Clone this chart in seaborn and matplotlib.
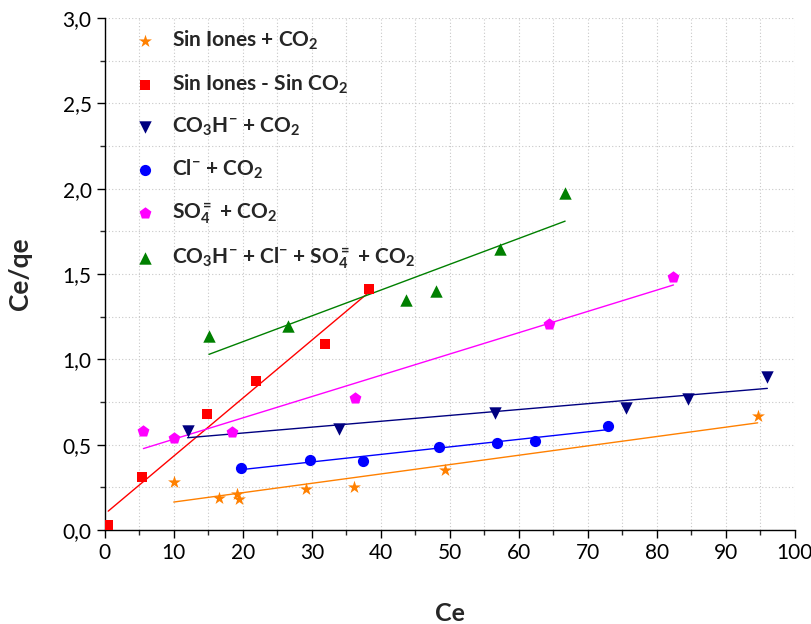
import numpy as np
import pandas as pd
import matplotlib
matplotlib.use("Agg")
import matplotlib.pyplot as plt
import seaborn as sns
from matplotlib.ticker import MultipleLocator, FuncFormatter

# Ce (x) and Ce/qe (y) per series
sin_iones_co2_x = [10.0, 16.5, 19.2, 19.4, 29.1, 36.1, 49.3, 94.6]
sin_iones_co2_y = [0.283, 0.189, 0.209, 0.183, 0.242, 0.250, 0.351, 0.670]

sin_iones_sin_co2_x = [0.5, 5.4, 14.8, 21.9, 31.9, 38.3]
sin_iones_sin_co2_y = [0.029, 0.31, 0.68, 0.873, 1.09, 1.41]

co3h_x = [12.0, 34.0, 56.5, 75.5, 84.5, 96.0]
co3h_y = [0.58, 0.59, 0.683, 0.713, 0.767, 0.898]

cl_x = [19.8, 29.7, 37.4, 48.4, 56.9, 62.4, 72.9]
cl_y = [0.365, 0.408, 0.406, 0.488, 0.510, 0.523, 0.611]

so4_x = [5.6, 10.0, 18.5, 36.2, 64.3, 82.4]
so4_y = [0.58, 0.537, 0.572, 0.773, 1.209, 1.482]

mix_x = [15.1, 26.5, 43.6, 48.0, 57.3, 66.7]
mix_y = [1.136, 1.195, 1.347, 1.398, 1.646, 1.974]

labels = [
    r"Sin Iones + CO$_2$",
    r"Sin Iones - Sin CO$_2$",
    r"CO$_3$H$^{-}$ + CO$_2$",
    r"Cl$^{-}$ + CO$_2$",
    r"SO$_4^{=}$ + CO$_2$",
    r"CO$_3$H$^{-}$ + Cl$^{-}$ + SO$_4^{=}$ + CO$_2$",
]

series = [
    (sin_iones_co2_x, sin_iones_co2_y, "#FF8000", "*", 95),
    (sin_iones_sin_co2_x, sin_iones_sin_co2_y, "#FF0000", "s", 50),
    (co3h_x, co3h_y, "#000080", "v", 80),
    (cl_x, cl_y, "#0000FF", "o", 65),
    (so4_x, so4_y, "#FF00FF", "p", 80),
    (mix_x, mix_y, "#008000", "^", 80),
]

sns.set_style("ticks")
plt.rcParams["font.family"] = ["Lato", "DejaVu Sans"]
plt.rcParams["mathtext.fontset"] = "custom"
plt.rcParams["mathtext.rm"] = "Lato:bold"
plt.rcParams["mathtext.it"] = "Lato:bold"
plt.rcParams["mathtext.bf"] = "Lato:bold"

fig = plt.figure(figsize=(8.12, 6.24), dpi=100)
ax = fig.add_axes([0.129, 0.1506, 0.850, 0.8205])

for (x, y, color, marker, size), label in zip(series, labels):
    df = pd.DataFrame({"Ce": x, "Ce/qe": y})
    sns.regplot(data=df, x="Ce", y="Ce/qe", ax=ax, ci=None, truncate=True,
                marker=marker, color=color, label=label,
                scatter_kws={"s": size, "linewidths": 0, "alpha": 1, "zorder": 3},
                line_kws={"linewidth": 1.0, "zorder": 2})

ax.set_xlim(0, 100)
ax.set_ylim(0, 3.0)
ax.xaxis.set_major_locator(MultipleLocator(10))
ax.xaxis.set_minor_locator(MultipleLocator(5))
ax.yaxis.set_major_locator(MultipleLocator(0.5))
ax.yaxis.set_minor_locator(MultipleLocator(0.25))
ax.yaxis.set_major_formatter(FuncFormatter(lambda v, p: f"{v:.1f}".replace(".", ",")))
ax.grid(True, which="both", color="#c8c8c8", linestyle=(0, (1, 2)), linewidth=0.8)
ax.set_axisbelow(True)

ax.tick_params(which="major", direction="out", length=6, width=1, labelsize=15, colors="black")
ax.tick_params(which="minor", direction="out", length=3.5, width=1)
for s in ["top", "right"]:
    ax.spines[s].set_visible(False)
for s in ["left", "bottom"]:
    ax.spines[s].set_color("black")
    ax.spines[s].set_linewidth(1.0)

ax.set_xlabel("Ce", fontsize=18, fontweight="bold", labelpad=28)
ax.set_ylabel("Ce/qe", fontsize=19, fontweight="bold", labelpad=22)

ax.legend(loc="upper left", bbox_to_anchor=(0.031, 0.995), frameon=False,
          prop={"family": "Lato", "weight": "bold", "size": 15},
          labelspacing=0.96, handletextpad=0.8, handlelength=1.0,
          borderaxespad=0.0)

fig.savefig("out.png", dpi=100)
